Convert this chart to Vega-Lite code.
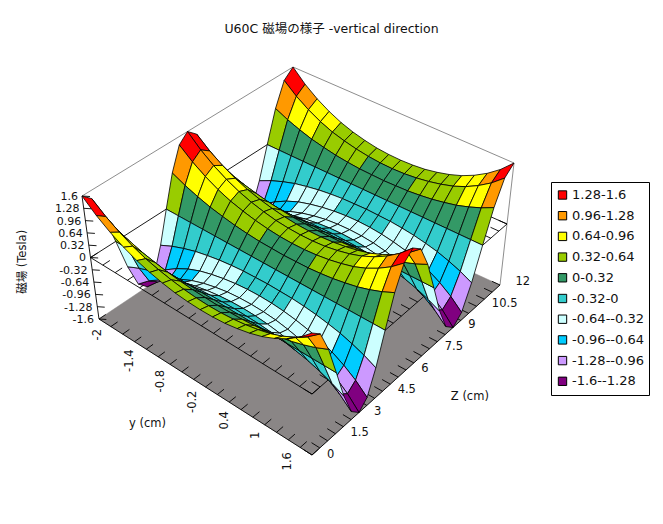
{"$schema":"https://vega.github.io/schema/vega-lite/v6.json","width":663,"height":524,"padding":0,"autosize":"none","background":"white",
"title":{"text":"U60C 磁場の様子 -vertical direction","anchor":"middle","font":"DejaVu Sans, Noto Sans CJK JP","fontSize":12.5,"fontWeight":"normal","color":"#111","baseline":"middle","offset":0,"dy":41},
"config":{"view":{"stroke":null}},
"data":{"values":[
{"set":"floor","o":0,"y":-2,"z":0,"b":-1.6},{"set":"floor","o":1,"y":1.6,"z":0,"b":-1.6},{"set":"floor","o":2,"y":1.6,"z":12,"b":-1.6},{"set":"floor","o":3,"y":-2,"z":12,"b":-1.6},{"set":"floor","o":4,"y":-2,"z":0,"b":-1.6},
{"set":"frame","seg":"a","kind":"wall","y":-2,"z":0,"b":1.6},{"set":"frame","seg":"a","kind":"wall","y":-2,"z":12,"b":1.6},
{"set":"frame","seg":"b","kind":"wall","y":-2,"z":12,"b":1.6},{"set":"frame","seg":"b","kind":"wall","y":1.6,"z":12,"b":1.6},
{"set":"frame","seg":"c","kind":"wall","y":1.6,"z":12,"b":1.6},{"set":"frame","seg":"c","kind":"wall","y":1.6,"z":12,"b":-1.6},
{"set":"frame","seg":"d","kind":"axis","y":-2,"z":0,"b":1.6},{"set":"frame","seg":"d","kind":"axis","y":-2,"z":0,"b":-1.6},
{"set":"frame","seg":"e","kind":"axis","y":-2,"z":0,"b":-1.6},{"set":"frame","seg":"e","kind":"axis","y":1.6,"z":0,"b":-1.6},
{"set":"frame","seg":"f","kind":"axis","y":1.6,"z":0,"b":-1.6},{"set":"frame","seg":"f","kind":"axis","y":1.6,"z":12,"b":-1.6},
{"set":"frame","seg":"g","kind":"axis","y":-2,"z":0,"b":0},{"set":"frame","seg":"g","kind":"axis","y":1.6,"z":0,"b":0},
{"set":"frame","seg":"h","kind":"axis","y":1.6,"z":0,"b":0},{"set":"frame","seg":"h","kind":"axis","y":1.6,"z":12,"b":0},
{"set":"frame","seg":"i","kind":"axis","y":-2,"z":0,"b":0},{"set":"frame","seg":"i","kind":"axis","y":-2,"z":12,"b":0},
{"set":"frame","seg":"j","kind":"axis","y":-2,"z":12,"b":0},{"set":"frame","seg":"j","kind":"axis","y":1.6,"z":12,"b":0},
{"set":"tick","tk":"b","y":-2,"z":0,"b":1.6},{"set":"tick","tk":"b","y":-2,"z":0,"b":1.28},{"set":"tick","tk":"b","y":-2,"z":0,"b":0.96},{"set":"tick","tk":"b","y":-2,"z":0,"b":0.64},{"set":"tick","tk":"b","y":-2,"z":0,"b":0.32},{"set":"tick","tk":"b","y":-2,"z":0,"b":0},{"set":"tick","tk":"b","y":-2,"z":0,"b":-0.32},{"set":"tick","tk":"b","y":-2,"z":0,"b":-0.64},{"set":"tick","tk":"b","y":-2,"z":0,"b":-0.96},{"set":"tick","tk":"b","y":-2,"z":0,"b":-1.28},{"set":"tick","tk":"b","y":-2,"z":0,"b":-1.6},
{"set":"tick","tk":"y","y":-2,"z":0,"b":-1.6},{"set":"tick","tk":"y","y":-1.8,"z":0,"b":-1.6},{"set":"tick","tk":"y","y":-1.6,"z":0,"b":-1.6},{"set":"tick","tk":"y","y":-1.4,"z":0,"b":-1.6},{"set":"tick","tk":"y","y":-1.2,"z":0,"b":-1.6},{"set":"tick","tk":"y","y":-1,"z":0,"b":-1.6},{"set":"tick","tk":"y","y":-0.8,"z":0,"b":-1.6},{"set":"tick","tk":"y","y":-0.6,"z":0,"b":-1.6},{"set":"tick","tk":"y","y":-0.4,"z":0,"b":-1.6},{"set":"tick","tk":"y","y":-0.2,"z":0,"b":-1.6},{"set":"tick","tk":"y","y":0,"z":0,"b":-1.6},{"set":"tick","tk":"y","y":0.2,"z":0,"b":-1.6},{"set":"tick","tk":"y","y":0.4,"z":0,"b":-1.6},{"set":"tick","tk":"y","y":0.6,"z":0,"b":-1.6},{"set":"tick","tk":"y","y":0.8,"z":0,"b":-1.6},{"set":"tick","tk":"y","y":1,"z":0,"b":-1.6},{"set":"tick","tk":"y","y":1.2,"z":0,"b":-1.6},{"set":"tick","tk":"y","y":1.4,"z":0,"b":-1.6},{"set":"tick","tk":"y","y":1.6,"z":0,"b":-1.6},
{"set":"tick","tk":"y","y":-2,"z":0,"b":0},{"set":"tick","tk":"y","y":-1.8,"z":0,"b":0},{"set":"tick","tk":"y","y":-1.6,"z":0,"b":0},{"set":"tick","tk":"y","y":-1.4,"z":0,"b":0},{"set":"tick","tk":"y","y":-1.2,"z":0,"b":0},{"set":"tick","tk":"y","y":-1,"z":0,"b":0},{"set":"tick","tk":"y","y":-0.8,"z":0,"b":0},{"set":"tick","tk":"y","y":-0.6,"z":0,"b":0},{"set":"tick","tk":"y","y":-0.4,"z":0,"b":0},{"set":"tick","tk":"y","y":-0.2,"z":0,"b":0},{"set":"tick","tk":"y","y":0,"z":0,"b":0},{"set":"tick","tk":"y","y":0.2,"z":0,"b":0},{"set":"tick","tk":"y","y":0.4,"z":0,"b":0},{"set":"tick","tk":"y","y":0.6,"z":0,"b":0},{"set":"tick","tk":"y","y":0.8,"z":0,"b":0},{"set":"tick","tk":"y","y":1,"z":0,"b":0},{"set":"tick","tk":"y","y":1.2,"z":0,"b":0},{"set":"tick","tk":"y","y":1.4,"z":0,"b":0},{"set":"tick","tk":"y","y":1.6,"z":0,"b":0},
{"set":"tick","tk":"z","y":1.6,"z":0,"b":-1.6},{"set":"tick","tk":"z","y":1.6,"z":0.5,"b":-1.6},{"set":"tick","tk":"z","y":1.6,"z":1,"b":-1.6},{"set":"tick","tk":"z","y":1.6,"z":1.5,"b":-1.6},{"set":"tick","tk":"z","y":1.6,"z":2,"b":-1.6},{"set":"tick","tk":"z","y":1.6,"z":2.5,"b":-1.6},{"set":"tick","tk":"z","y":1.6,"z":3,"b":-1.6},{"set":"tick","tk":"z","y":1.6,"z":3.5,"b":-1.6},{"set":"tick","tk":"z","y":1.6,"z":4,"b":-1.6},{"set":"tick","tk":"z","y":1.6,"z":4.5,"b":-1.6},{"set":"tick","tk":"z","y":1.6,"z":5,"b":-1.6},{"set":"tick","tk":"z","y":1.6,"z":5.5,"b":-1.6},{"set":"tick","tk":"z","y":1.6,"z":6,"b":-1.6},{"set":"tick","tk":"z","y":1.6,"z":6.5,"b":-1.6},{"set":"tick","tk":"z","y":1.6,"z":7,"b":-1.6},{"set":"tick","tk":"z","y":1.6,"z":7.5,"b":-1.6},{"set":"tick","tk":"z","y":1.6,"z":8,"b":-1.6},{"set":"tick","tk":"z","y":1.6,"z":8.5,"b":-1.6},{"set":"tick","tk":"z","y":1.6,"z":9,"b":-1.6},{"set":"tick","tk":"z","y":1.6,"z":9.5,"b":-1.6},{"set":"tick","tk":"z","y":1.6,"z":10,"b":-1.6},{"set":"tick","tk":"z","y":1.6,"z":10.5,"b":-1.6},{"set":"tick","tk":"z","y":1.6,"z":11,"b":-1.6},{"set":"tick","tk":"z","y":1.6,"z":11.5,"b":-1.6},{"set":"tick","tk":"z","y":1.6,"z":12,"b":-1.6},
{"set":"tick","tk":"z","y":1.6,"z":0,"b":0},{"set":"tick","tk":"z","y":1.6,"z":0.5,"b":0},{"set":"tick","tk":"z","y":1.6,"z":1,"b":0},{"set":"tick","tk":"z","y":1.6,"z":1.5,"b":0},{"set":"tick","tk":"z","y":1.6,"z":2,"b":0},{"set":"tick","tk":"z","y":1.6,"z":2.5,"b":0},{"set":"tick","tk":"z","y":1.6,"z":3,"b":0},{"set":"tick","tk":"z","y":1.6,"z":3.5,"b":0},{"set":"tick","tk":"z","y":1.6,"z":4,"b":0},{"set":"tick","tk":"z","y":1.6,"z":4.5,"b":0},{"set":"tick","tk":"z","y":1.6,"z":5,"b":0},{"set":"tick","tk":"z","y":1.6,"z":5.5,"b":0},{"set":"tick","tk":"z","y":1.6,"z":6,"b":0},{"set":"tick","tk":"z","y":1.6,"z":6.5,"b":0},{"set":"tick","tk":"z","y":1.6,"z":7,"b":0},{"set":"tick","tk":"z","y":1.6,"z":7.5,"b":0},{"set":"tick","tk":"z","y":1.6,"z":8,"b":0},{"set":"tick","tk":"z","y":1.6,"z":8.5,"b":0},{"set":"tick","tk":"z","y":1.6,"z":9,"b":0},{"set":"tick","tk":"z","y":1.6,"z":9.5,"b":0},{"set":"tick","tk":"z","y":1.6,"z":10,"b":0},{"set":"tick","tk":"z","y":1.6,"z":10.5,"b":0},{"set":"tick","tk":"z","y":1.6,"z":11,"b":0},{"set":"tick","tk":"z","y":1.6,"z":11.5,"b":0},{"set":"tick","tk":"z","y":1.6,"z":12,"b":0},
{"set":"yl","val":-2,"label":"-2"},{"set":"yl","val":-1.4,"label":"-1.4"},{"set":"yl","val":-0.8,"label":"-0.8"},{"set":"yl","val":-0.2,"label":"-0.2"},{"set":"yl","val":0.4,"label":"0.4"},{"set":"yl","val":1,"label":"1"},{"set":"yl","val":1.6,"label":"1.6"},
{"set":"zl","val":0,"label":"0"},{"set":"zl","val":1.5,"label":"1.5"},{"set":"zl","val":3,"label":"3"},{"set":"zl","val":4.5,"label":"4.5"},{"set":"zl","val":6,"label":"6"},{"set":"zl","val":7.5,"label":"7.5"},{"set":"zl","val":9,"label":"9"},{"set":"zl","val":10.5,"label":"10.5"},{"set":"zl","val":12,"label":"12"},
{"set":"bl","val":1.6,"label":"1.6"},{"set":"bl","val":1.28,"label":"1.28"},{"set":"bl","val":0.96,"label":"0.96"},{"set":"bl","val":0.64,"label":"0.64"},{"set":"bl","val":0.32,"label":"0.32"},{"set":"bl","val":0,"label":"0"},{"set":"bl","val":-0.32,"label":"-0.32"},{"set":"bl","val":-0.64,"label":"-0.64"},{"set":"bl","val":-0.96,"label":"-0.96"},{"set":"bl","val":-1.28,"label":"-1.28"},{"set":"bl","val":-1.6,"label":"-1.6"},
{"set":"at","y":-0.2,"z":-3.6,"b":-1.4,"label":"y (cm)"},{"set":"at","y":2.68,"z":6,"b":-1.4,"label":"Z (cm)"},{"set":"av","y":-2.46,"z":-2.3,"b":0.05,"label":"磁場 (Tesla)"},
{"y":-2,"z":12,"b":1.6},{"y":-1.8,"z":12,"b":1.29},{"y":-1.6,"z":12,"b":1.05},{"y":-1.4,"z":12,"b":0.86},{"y":-1.2,"z":12,"b":0.71},{"y":-1,"z":12,"b":0.6},{"y":-0.8,"z":12,"b":0.52},{"y":-0.6,"z":12,"b":0.46},{"y":-0.4,"z":12,"b":0.43},{"y":-0.2,"z":12,"b":0.42},{"y":0,"z":12,"b":0.43},{"y":0.2,"z":12,"b":0.46},{"y":0.4,"z":12,"b":0.52},{"y":0.6,"z":12,"b":0.6},{"y":0.8,"z":12,"b":0.71},{"y":1,"z":12,"b":0.86},{"y":1.2,"z":12,"b":1.05},{"y":1.4,"z":12,"b":1.29},{"y":1.6,"z":12,"b":1.6},
{"y":-2,"z":11.5,"b":1.39},{"y":-1.8,"z":11.5,"b":1.12},{"y":-1.6,"z":11.5,"b":0.91},{"y":-1.4,"z":11.5,"b":0.74},{"y":-1.2,"z":11.5,"b":0.61},{"y":-1,"z":11.5,"b":0.52},{"y":-0.8,"z":11.5,"b":0.45},{"y":-0.6,"z":11.5,"b":0.4},{"y":-0.4,"z":11.5,"b":0.37},{"y":-0.2,"z":11.5,"b":0.36},{"y":0,"z":11.5,"b":0.37},{"y":0.2,"z":11.5,"b":0.4},{"y":0.4,"z":11.5,"b":0.45},{"y":0.6,"z":11.5,"b":0.52},{"y":0.8,"z":11.5,"b":0.61},{"y":1,"z":11.5,"b":0.74},{"y":1.2,"z":11.5,"b":0.91},{"y":1.4,"z":11.5,"b":1.12},{"y":1.6,"z":11.5,"b":1.39},
{"y":-2,"z":11,"b":0.8},{"y":-1.8,"z":11,"b":0.65},{"y":-1.6,"z":11,"b":0.53},{"y":-1.4,"z":11,"b":0.43},{"y":-1.2,"z":11,"b":0.36},{"y":-1,"z":11,"b":0.3},{"y":-0.8,"z":11,"b":0.26},{"y":-0.6,"z":11,"b":0.23},{"y":-0.4,"z":11,"b":0.22},{"y":-0.2,"z":11,"b":0.21},{"y":0,"z":11,"b":0.22},{"y":0.2,"z":11,"b":0.23},{"y":0.4,"z":11,"b":0.26},{"y":0.6,"z":11,"b":0.3},{"y":0.8,"z":11,"b":0.36},{"y":1,"z":11,"b":0.43},{"y":1.2,"z":11,"b":0.53},{"y":1.4,"z":11,"b":0.65},{"y":1.6,"z":11,"b":0.8},
{"y":-2,"z":10.5,"b":0},{"y":-1.8,"z":10.5,"b":0},{"y":-1.6,"z":10.5,"b":0},{"y":-1.4,"z":10.5,"b":0},{"y":-1.2,"z":10.5,"b":0},{"y":-1,"z":10.5,"b":0},{"y":-0.8,"z":10.5,"b":0},{"y":-0.6,"z":10.5,"b":0},{"y":-0.4,"z":10.5,"b":0},{"y":-0.2,"z":10.5,"b":0},{"y":0,"z":10.5,"b":0},{"y":0.2,"z":10.5,"b":0},{"y":0.4,"z":10.5,"b":0},{"y":0.6,"z":10.5,"b":0},{"y":0.8,"z":10.5,"b":0},{"y":1,"z":10.5,"b":0},{"y":1.2,"z":10.5,"b":0},{"y":1.4,"z":10.5,"b":0},{"y":1.6,"z":10.5,"b":0},
{"y":-2,"z":10,"b":-0.8},{"y":-1.8,"z":10,"b":-0.65},{"y":-1.6,"z":10,"b":-0.53},{"y":-1.4,"z":10,"b":-0.43},{"y":-1.2,"z":10,"b":-0.36},{"y":-1,"z":10,"b":-0.3},{"y":-0.8,"z":10,"b":-0.26},{"y":-0.6,"z":10,"b":-0.23},{"y":-0.4,"z":10,"b":-0.22},{"y":-0.2,"z":10,"b":-0.21},{"y":0,"z":10,"b":-0.22},{"y":0.2,"z":10,"b":-0.23},{"y":0.4,"z":10,"b":-0.26},{"y":0.6,"z":10,"b":-0.3},{"y":0.8,"z":10,"b":-0.36},{"y":1,"z":10,"b":-0.43},{"y":1.2,"z":10,"b":-0.53},{"y":1.4,"z":10,"b":-0.65},{"y":1.6,"z":10,"b":-0.8},
{"y":-2,"z":9.5,"b":-1.39},{"y":-1.8,"z":9.5,"b":-1.12},{"y":-1.6,"z":9.5,"b":-0.91},{"y":-1.4,"z":9.5,"b":-0.74},{"y":-1.2,"z":9.5,"b":-0.61},{"y":-1,"z":9.5,"b":-0.52},{"y":-0.8,"z":9.5,"b":-0.45},{"y":-0.6,"z":9.5,"b":-0.4},{"y":-0.4,"z":9.5,"b":-0.37},{"y":-0.2,"z":9.5,"b":-0.36},{"y":0,"z":9.5,"b":-0.37},{"y":0.2,"z":9.5,"b":-0.4},{"y":0.4,"z":9.5,"b":-0.45},{"y":0.6,"z":9.5,"b":-0.52},{"y":0.8,"z":9.5,"b":-0.61},{"y":1,"z":9.5,"b":-0.74},{"y":1.2,"z":9.5,"b":-0.91},{"y":1.4,"z":9.5,"b":-1.12},{"y":1.6,"z":9.5,"b":-1.39},
{"y":-2,"z":9,"b":-1.6},{"y":-1.8,"z":9,"b":-1.29},{"y":-1.6,"z":9,"b":-1.05},{"y":-1.4,"z":9,"b":-0.86},{"y":-1.2,"z":9,"b":-0.71},{"y":-1,"z":9,"b":-0.6},{"y":-0.8,"z":9,"b":-0.52},{"y":-0.6,"z":9,"b":-0.46},{"y":-0.4,"z":9,"b":-0.43},{"y":-0.2,"z":9,"b":-0.42},{"y":0,"z":9,"b":-0.43},{"y":0.2,"z":9,"b":-0.46},{"y":0.4,"z":9,"b":-0.52},{"y":0.6,"z":9,"b":-0.6},{"y":0.8,"z":9,"b":-0.71},{"y":1,"z":9,"b":-0.86},{"y":1.2,"z":9,"b":-1.05},{"y":1.4,"z":9,"b":-1.29},{"y":1.6,"z":9,"b":-1.6},
{"y":-2,"z":8.5,"b":-1.39},{"y":-1.8,"z":8.5,"b":-1.12},{"y":-1.6,"z":8.5,"b":-0.91},{"y":-1.4,"z":8.5,"b":-0.74},{"y":-1.2,"z":8.5,"b":-0.61},{"y":-1,"z":8.5,"b":-0.52},{"y":-0.8,"z":8.5,"b":-0.45},{"y":-0.6,"z":8.5,"b":-0.4},{"y":-0.4,"z":8.5,"b":-0.37},{"y":-0.2,"z":8.5,"b":-0.36},{"y":0,"z":8.5,"b":-0.37},{"y":0.2,"z":8.5,"b":-0.4},{"y":0.4,"z":8.5,"b":-0.45},{"y":0.6,"z":8.5,"b":-0.52},{"y":0.8,"z":8.5,"b":-0.61},{"y":1,"z":8.5,"b":-0.74},{"y":1.2,"z":8.5,"b":-0.91},{"y":1.4,"z":8.5,"b":-1.12},{"y":1.6,"z":8.5,"b":-1.39},
{"y":-2,"z":8,"b":-0.8},{"y":-1.8,"z":8,"b":-0.65},{"y":-1.6,"z":8,"b":-0.53},{"y":-1.4,"z":8,"b":-0.43},{"y":-1.2,"z":8,"b":-0.36},{"y":-1,"z":8,"b":-0.3},{"y":-0.8,"z":8,"b":-0.26},{"y":-0.6,"z":8,"b":-0.23},{"y":-0.4,"z":8,"b":-0.22},{"y":-0.2,"z":8,"b":-0.21},{"y":0,"z":8,"b":-0.22},{"y":0.2,"z":8,"b":-0.23},{"y":0.4,"z":8,"b":-0.26},{"y":0.6,"z":8,"b":-0.3},{"y":0.8,"z":8,"b":-0.36},{"y":1,"z":8,"b":-0.43},{"y":1.2,"z":8,"b":-0.53},{"y":1.4,"z":8,"b":-0.65},{"y":1.6,"z":8,"b":-0.8},
{"y":-2,"z":7.5,"b":0},{"y":-1.8,"z":7.5,"b":0},{"y":-1.6,"z":7.5,"b":0},{"y":-1.4,"z":7.5,"b":0},{"y":-1.2,"z":7.5,"b":0},{"y":-1,"z":7.5,"b":0},{"y":-0.8,"z":7.5,"b":0},{"y":-0.6,"z":7.5,"b":0},{"y":-0.4,"z":7.5,"b":0},{"y":-0.2,"z":7.5,"b":0},{"y":0,"z":7.5,"b":0},{"y":0.2,"z":7.5,"b":0},{"y":0.4,"z":7.5,"b":0},{"y":0.6,"z":7.5,"b":0},{"y":0.8,"z":7.5,"b":0},{"y":1,"z":7.5,"b":0},{"y":1.2,"z":7.5,"b":0},{"y":1.4,"z":7.5,"b":0},{"y":1.6,"z":7.5,"b":0},
{"y":-2,"z":7,"b":0.8},{"y":-1.8,"z":7,"b":0.65},{"y":-1.6,"z":7,"b":0.53},{"y":-1.4,"z":7,"b":0.43},{"y":-1.2,"z":7,"b":0.36},{"y":-1,"z":7,"b":0.3},{"y":-0.8,"z":7,"b":0.26},{"y":-0.6,"z":7,"b":0.23},{"y":-0.4,"z":7,"b":0.22},{"y":-0.2,"z":7,"b":0.21},{"y":0,"z":7,"b":0.22},{"y":0.2,"z":7,"b":0.23},{"y":0.4,"z":7,"b":0.26},{"y":0.6,"z":7,"b":0.3},{"y":0.8,"z":7,"b":0.36},{"y":1,"z":7,"b":0.43},{"y":1.2,"z":7,"b":0.53},{"y":1.4,"z":7,"b":0.65},{"y":1.6,"z":7,"b":0.8},
{"y":-2,"z":6.5,"b":1.39},{"y":-1.8,"z":6.5,"b":1.12},{"y":-1.6,"z":6.5,"b":0.91},{"y":-1.4,"z":6.5,"b":0.74},{"y":-1.2,"z":6.5,"b":0.61},{"y":-1,"z":6.5,"b":0.52},{"y":-0.8,"z":6.5,"b":0.45},{"y":-0.6,"z":6.5,"b":0.4},{"y":-0.4,"z":6.5,"b":0.37},{"y":-0.2,"z":6.5,"b":0.36},{"y":0,"z":6.5,"b":0.37},{"y":0.2,"z":6.5,"b":0.4},{"y":0.4,"z":6.5,"b":0.45},{"y":0.6,"z":6.5,"b":0.52},{"y":0.8,"z":6.5,"b":0.61},{"y":1,"z":6.5,"b":0.74},{"y":1.2,"z":6.5,"b":0.91},{"y":1.4,"z":6.5,"b":1.12},{"y":1.6,"z":6.5,"b":1.39},
{"y":-2,"z":6,"b":1.6},{"y":-1.8,"z":6,"b":1.29},{"y":-1.6,"z":6,"b":1.05},{"y":-1.4,"z":6,"b":0.86},{"y":-1.2,"z":6,"b":0.71},{"y":-1,"z":6,"b":0.6},{"y":-0.8,"z":6,"b":0.52},{"y":-0.6,"z":6,"b":0.46},{"y":-0.4,"z":6,"b":0.43},{"y":-0.2,"z":6,"b":0.42},{"y":0,"z":6,"b":0.43},{"y":0.2,"z":6,"b":0.46},{"y":0.4,"z":6,"b":0.52},{"y":0.6,"z":6,"b":0.6},{"y":0.8,"z":6,"b":0.71},{"y":1,"z":6,"b":0.86},{"y":1.2,"z":6,"b":1.05},{"y":1.4,"z":6,"b":1.29},{"y":1.6,"z":6,"b":1.6},
{"y":-2,"z":5.5,"b":1.39},{"y":-1.8,"z":5.5,"b":1.12},{"y":-1.6,"z":5.5,"b":0.91},{"y":-1.4,"z":5.5,"b":0.74},{"y":-1.2,"z":5.5,"b":0.61},{"y":-1,"z":5.5,"b":0.52},{"y":-0.8,"z":5.5,"b":0.45},{"y":-0.6,"z":5.5,"b":0.4},{"y":-0.4,"z":5.5,"b":0.37},{"y":-0.2,"z":5.5,"b":0.36},{"y":0,"z":5.5,"b":0.37},{"y":0.2,"z":5.5,"b":0.4},{"y":0.4,"z":5.5,"b":0.45},{"y":0.6,"z":5.5,"b":0.52},{"y":0.8,"z":5.5,"b":0.61},{"y":1,"z":5.5,"b":0.74},{"y":1.2,"z":5.5,"b":0.91},{"y":1.4,"z":5.5,"b":1.12},{"y":1.6,"z":5.5,"b":1.39},
{"y":-2,"z":5,"b":0.8},{"y":-1.8,"z":5,"b":0.65},{"y":-1.6,"z":5,"b":0.53},{"y":-1.4,"z":5,"b":0.43},{"y":-1.2,"z":5,"b":0.36},{"y":-1,"z":5,"b":0.3},{"y":-0.8,"z":5,"b":0.26},{"y":-0.6,"z":5,"b":0.23},{"y":-0.4,"z":5,"b":0.22},{"y":-0.2,"z":5,"b":0.21},{"y":0,"z":5,"b":0.22},{"y":0.2,"z":5,"b":0.23},{"y":0.4,"z":5,"b":0.26},{"y":0.6,"z":5,"b":0.3},{"y":0.8,"z":5,"b":0.36},{"y":1,"z":5,"b":0.43},{"y":1.2,"z":5,"b":0.53},{"y":1.4,"z":5,"b":0.65},{"y":1.6,"z":5,"b":0.8},
{"y":-2,"z":4.5,"b":0},{"y":-1.8,"z":4.5,"b":0},{"y":-1.6,"z":4.5,"b":0},{"y":-1.4,"z":4.5,"b":0},{"y":-1.2,"z":4.5,"b":0},{"y":-1,"z":4.5,"b":0},{"y":-0.8,"z":4.5,"b":0},{"y":-0.6,"z":4.5,"b":0},{"y":-0.4,"z":4.5,"b":0},{"y":-0.2,"z":4.5,"b":0},{"y":0,"z":4.5,"b":0},{"y":0.2,"z":4.5,"b":0},{"y":0.4,"z":4.5,"b":0},{"y":0.6,"z":4.5,"b":0},{"y":0.8,"z":4.5,"b":0},{"y":1,"z":4.5,"b":0},{"y":1.2,"z":4.5,"b":0},{"y":1.4,"z":4.5,"b":0},{"y":1.6,"z":4.5,"b":0},
{"y":-2,"z":4,"b":-0.8},{"y":-1.8,"z":4,"b":-0.65},{"y":-1.6,"z":4,"b":-0.53},{"y":-1.4,"z":4,"b":-0.43},{"y":-1.2,"z":4,"b":-0.36},{"y":-1,"z":4,"b":-0.3},{"y":-0.8,"z":4,"b":-0.26},{"y":-0.6,"z":4,"b":-0.23},{"y":-0.4,"z":4,"b":-0.22},{"y":-0.2,"z":4,"b":-0.21},{"y":0,"z":4,"b":-0.22},{"y":0.2,"z":4,"b":-0.23},{"y":0.4,"z":4,"b":-0.26},{"y":0.6,"z":4,"b":-0.3},{"y":0.8,"z":4,"b":-0.36},{"y":1,"z":4,"b":-0.43},{"y":1.2,"z":4,"b":-0.53},{"y":1.4,"z":4,"b":-0.65},{"y":1.6,"z":4,"b":-0.8},
{"y":-2,"z":3.5,"b":-1.39},{"y":-1.8,"z":3.5,"b":-1.12},{"y":-1.6,"z":3.5,"b":-0.91},{"y":-1.4,"z":3.5,"b":-0.74},{"y":-1.2,"z":3.5,"b":-0.61},{"y":-1,"z":3.5,"b":-0.52},{"y":-0.8,"z":3.5,"b":-0.45},{"y":-0.6,"z":3.5,"b":-0.4},{"y":-0.4,"z":3.5,"b":-0.37},{"y":-0.2,"z":3.5,"b":-0.36},{"y":0,"z":3.5,"b":-0.37},{"y":0.2,"z":3.5,"b":-0.4},{"y":0.4,"z":3.5,"b":-0.45},{"y":0.6,"z":3.5,"b":-0.52},{"y":0.8,"z":3.5,"b":-0.61},{"y":1,"z":3.5,"b":-0.74},{"y":1.2,"z":3.5,"b":-0.91},{"y":1.4,"z":3.5,"b":-1.12},{"y":1.6,"z":3.5,"b":-1.39},
{"y":-2,"z":3,"b":-1.6},{"y":-1.8,"z":3,"b":-1.29},{"y":-1.6,"z":3,"b":-1.05},{"y":-1.4,"z":3,"b":-0.86},{"y":-1.2,"z":3,"b":-0.71},{"y":-1,"z":3,"b":-0.6},{"y":-0.8,"z":3,"b":-0.52},{"y":-0.6,"z":3,"b":-0.46},{"y":-0.4,"z":3,"b":-0.43},{"y":-0.2,"z":3,"b":-0.42},{"y":0,"z":3,"b":-0.43},{"y":0.2,"z":3,"b":-0.46},{"y":0.4,"z":3,"b":-0.52},{"y":0.6,"z":3,"b":-0.6},{"y":0.8,"z":3,"b":-0.71},{"y":1,"z":3,"b":-0.86},{"y":1.2,"z":3,"b":-1.05},{"y":1.4,"z":3,"b":-1.29},{"y":1.6,"z":3,"b":-1.6},
{"y":-2,"z":2.5,"b":-1.39},{"y":-1.8,"z":2.5,"b":-1.12},{"y":-1.6,"z":2.5,"b":-0.91},{"y":-1.4,"z":2.5,"b":-0.74},{"y":-1.2,"z":2.5,"b":-0.61},{"y":-1,"z":2.5,"b":-0.52},{"y":-0.8,"z":2.5,"b":-0.45},{"y":-0.6,"z":2.5,"b":-0.4},{"y":-0.4,"z":2.5,"b":-0.37},{"y":-0.2,"z":2.5,"b":-0.36},{"y":0,"z":2.5,"b":-0.37},{"y":0.2,"z":2.5,"b":-0.4},{"y":0.4,"z":2.5,"b":-0.45},{"y":0.6,"z":2.5,"b":-0.52},{"y":0.8,"z":2.5,"b":-0.61},{"y":1,"z":2.5,"b":-0.74},{"y":1.2,"z":2.5,"b":-0.91},{"y":1.4,"z":2.5,"b":-1.12},{"y":1.6,"z":2.5,"b":-1.39},
{"y":-2,"z":2,"b":-0.8},{"y":-1.8,"z":2,"b":-0.65},{"y":-1.6,"z":2,"b":-0.53},{"y":-1.4,"z":2,"b":-0.43},{"y":-1.2,"z":2,"b":-0.36},{"y":-1,"z":2,"b":-0.3},{"y":-0.8,"z":2,"b":-0.26},{"y":-0.6,"z":2,"b":-0.23},{"y":-0.4,"z":2,"b":-0.22},{"y":-0.2,"z":2,"b":-0.21},{"y":0,"z":2,"b":-0.22},{"y":0.2,"z":2,"b":-0.23},{"y":0.4,"z":2,"b":-0.26},{"y":0.6,"z":2,"b":-0.3},{"y":0.8,"z":2,"b":-0.36},{"y":1,"z":2,"b":-0.43},{"y":1.2,"z":2,"b":-0.53},{"y":1.4,"z":2,"b":-0.65},{"y":1.6,"z":2,"b":-0.8},
{"y":-2,"z":1.5,"b":0},{"y":-1.8,"z":1.5,"b":0},{"y":-1.6,"z":1.5,"b":0},{"y":-1.4,"z":1.5,"b":0},{"y":-1.2,"z":1.5,"b":0},{"y":-1,"z":1.5,"b":0},{"y":-0.8,"z":1.5,"b":0},{"y":-0.6,"z":1.5,"b":0},{"y":-0.4,"z":1.5,"b":0},{"y":-0.2,"z":1.5,"b":0},{"y":0,"z":1.5,"b":0},{"y":0.2,"z":1.5,"b":0},{"y":0.4,"z":1.5,"b":0},{"y":0.6,"z":1.5,"b":0},{"y":0.8,"z":1.5,"b":0},{"y":1,"z":1.5,"b":0},{"y":1.2,"z":1.5,"b":0},{"y":1.4,"z":1.5,"b":0},{"y":1.6,"z":1.5,"b":0},
{"y":-2,"z":1,"b":0.8},{"y":-1.8,"z":1,"b":0.65},{"y":-1.6,"z":1,"b":0.53},{"y":-1.4,"z":1,"b":0.43},{"y":-1.2,"z":1,"b":0.36},{"y":-1,"z":1,"b":0.3},{"y":-0.8,"z":1,"b":0.26},{"y":-0.6,"z":1,"b":0.23},{"y":-0.4,"z":1,"b":0.22},{"y":-0.2,"z":1,"b":0.21},{"y":0,"z":1,"b":0.22},{"y":0.2,"z":1,"b":0.23},{"y":0.4,"z":1,"b":0.26},{"y":0.6,"z":1,"b":0.3},{"y":0.8,"z":1,"b":0.36},{"y":1,"z":1,"b":0.43},{"y":1.2,"z":1,"b":0.53},{"y":1.4,"z":1,"b":0.65},{"y":1.6,"z":1,"b":0.8},
{"y":-2,"z":0.5,"b":1.39},{"y":-1.8,"z":0.5,"b":1.12},{"y":-1.6,"z":0.5,"b":0.91},{"y":-1.4,"z":0.5,"b":0.74},{"y":-1.2,"z":0.5,"b":0.61},{"y":-1,"z":0.5,"b":0.52},{"y":-0.8,"z":0.5,"b":0.45},{"y":-0.6,"z":0.5,"b":0.4},{"y":-0.4,"z":0.5,"b":0.37},{"y":-0.2,"z":0.5,"b":0.36},{"y":0,"z":0.5,"b":0.37},{"y":0.2,"z":0.5,"b":0.4},{"y":0.4,"z":0.5,"b":0.45},{"y":0.6,"z":0.5,"b":0.52},{"y":0.8,"z":0.5,"b":0.61},{"y":1,"z":0.5,"b":0.74},{"y":1.2,"z":0.5,"b":0.91},{"y":1.4,"z":0.5,"b":1.12},{"y":1.6,"z":0.5,"b":1.39},
{"y":-2,"z":0,"b":1.6},{"y":-1.8,"z":0,"b":1.29},{"y":-1.6,"z":0,"b":1.05},{"y":-1.4,"z":0,"b":0.86},{"y":-1.2,"z":0,"b":0.71},{"y":-1,"z":0,"b":0.6},{"y":-0.8,"z":0,"b":0.52},{"y":-0.6,"z":0,"b":0.46},{"y":-0.4,"z":0,"b":0.43},{"y":-0.2,"z":0,"b":0.42},{"y":0,"z":0,"b":0.43},{"y":0.2,"z":0,"b":0.46},{"y":0.4,"z":0,"b":0.52},{"y":0.6,"z":0,"b":0.6},{"y":0.8,"z":0,"b":0.71},{"y":1,"z":0,"b":0.86},{"y":1.2,"z":0,"b":1.05},{"y":1.4,"z":0,"b":1.29},{"y":1.6,"z":0,"b":1.6}
]},
"transform":[
{"calculate":"datum.set=='tick'?[0,1]:[0]","as":"w"},
{"flatten":["w"]},
{"calculate":"(datum.y+datum.w*(datum.tk=='z'?-0.14:datum.tk=='b'?0.07:0)+2)/3.6","as":"s"},
{"calculate":"(datum.z+datum.w*(datum.tk=='y'?0.42:datum.tk=='b'?0.2:0))/12","as":"q"},
{"calculate":"(datum.b+1.6)/3.2","as":"h"},
{"calculate":"(1-datum.s)*(1-datum.q)*(99-17*datum.h)+datum.s*(1-datum.q)*312+datum.s*datum.q*(500+14*datum.h)+(1-datum.s)*datum.q*(292+datum.h)","as":"px"},
{"calculate":"(1-datum.s)*(1-datum.q)*(319-123*datum.h)+datum.s*(1-datum.q)*(455-122*datum.h)+datum.s*datum.q*(285-122*datum.h)+(1-datum.s)*datum.q*(190-123*datum.h)","as":"py"}
],
"encoding":{
"x":{"field":"px","type":"quantitative","scale":{"domain":[0,663],"nice":false,"zero":false},"axis":null},
"y":{"field":"py","type":"quantitative","scale":{"domain":[524,0],"nice":false,"zero":false},"axis":null}},
"layer":[
{"transform":[{"filter":"datum.set=='floor'"}],"mark":{"type":"line","fill":"#8a8686","stroke":"#8a8686","strokeWidth":0.5},"encoding":{"order":{"field":"o","type":"quantitative"}}},
{"transform":[{"filter":"datum.set=='frame'"}],"mark":{"type":"line","strokeWidth":0.9},"encoding":{"detail":{"field":"seg"},"stroke":{"field":"kind","type":"nominal","scale":{"domain":["wall","axis"],"range":["#808080","#000000"]},"legend":null}}},
{"transform":[{"filter":"datum.set=='tick'"}],"mark":{"type":"line","stroke":"#000000","strokeWidth":0.9},"encoding":{"detail":[{"field":"tk"},{"field":"y"},{"field":"z"},{"field":"b"}],"order":{"field":"w","type":"quantitative"}}},
{"transform":[
{"filter":"!datum.set"},
{"calculate":"round((datum.y+2)/0.2)","as":"i"},
{"calculate":"round(datum.z/0.5)","as":"j"},
{"calculate":"[datum.i,datum.i-1,datum.i-1,datum.i,datum.i]","as":"ci"},
{"calculate":"[datum.j,datum.j,datum.j-1,datum.j-1,datum.j]","as":"cj"},
{"calculate":"[0,1,2,3,4]","as":"ord"},
{"flatten":["ci","cj","ord"]},
{"filter":"datum.ci>=0&&datum.ci<18&&datum.cj>=0&&datum.cj<24"},
{"calculate":"datum.ci*100+datum.cj","as":"cell"},
{"calculate":"datum.ord<4?datum.b:0","as":"bb"},
{"joinaggregate":[{"op":"sum","field":"bb","as":"sumb"}],"groupby":["cell"]},
{"calculate":"['-1.6--1.28','-1.28--0.96','-0.96--0.64','-0.64--0.32','-0.32-0','0-0.32','0.32-0.64','0.64-0.96','0.96-1.28','1.28-1.6'][clamp(floor((datum.sumb/4+1.6)/0.32),0,9)]","as":"band"}
],
"mark":{"type":"line","stroke":"#000000","strokeWidth":0.8,"strokeJoin":"round"},
"encoding":{"detail":{"field":"cell"},"order":{"field":"ord","type":"quantitative"},
"fill":{"field":"band","type":"nominal","scale":{"domain":["1.28-1.6","0.96-1.28","0.64-0.96","0.32-0.64","0-0.32","-0.32-0","-0.64--0.32","-0.96--0.64","-1.28--0.96","-1.6--1.28"],"range":["#ff0000","#ff9900","#ffff00","#99cc00","#339966","#33cccc","#ccffff","#00ccff","#cc99ff","#800080"]},
"legend":{"orient":"none","legendX":551,"legendY":182,"title":null,"symbolType":"square","symbolSize":70,"symbolStrokeColor":"#000000","symbolStrokeWidth":1,"symbolOpacity":1,"labelFont":"DejaVu Sans","labelFontSize":13,"labelColor":"#111","strokeColor":"#000000","padding":5,"rowPadding":4.7,"labelOffset":3,"clipHeight":16,"values":["1.28-1.6","0.96-1.28","0.64-0.96","0.32-0.64","0-0.32","-0.32-0","-0.64--0.32","-0.96--0.64","-1.28--0.96","-1.6--1.28"]}}}},
{"transform":[{"filter":"datum.set=='yl'"},{"calculate":"98+52.8*(datum.val+2)","as":"px"},{"calculate":"329+34.2*(datum.val+2)","as":"py"}],"mark":{"type":"text","angle":270,"align":"right","baseline":"middle","font":"DejaVu Sans","fontSize":11.5,"color":"#111"},"encoding":{"text":{"field":"label"}}},
{"transform":[{"filter":"datum.set=='zl'"},{"calculate":"327+15.7*datum.val","as":"px"},{"calculate":"455-14.4*datum.val","as":"py"}],"mark":{"type":"text","align":"left","baseline":"middle","font":"DejaVu Sans","fontSize":11.5,"color":"#111"},"encoding":{"text":{"field":"label"}}},
{"transform":[{"filter":"datum.set=='bl'"},{"calculate":"78+(1.6-datum.val)*5","as":"px"},{"calculate":"197+(1.6-datum.val)*38.4","as":"py"}],"mark":{"type":"text","align":"right","baseline":"middle","font":"DejaVu Sans","fontSize":11,"color":"#111"},"encoding":{"text":{"field":"label"}}},
{"transform":[{"filter":"datum.set=='at'"}],"mark":{"type":"text","align":"center","baseline":"middle","font":"DejaVu Sans","fontSize":11.5,"color":"#111"},"encoding":{"text":{"field":"label"}}},
{"transform":[{"filter":"datum.set=='av'"}],"mark":{"type":"text","angle":270,"align":"center","baseline":"middle","font":"DejaVu Sans, Noto Sans CJK JP","fontSize":11.5,"color":"#111"},"encoding":{"text":{"field":"label"}}}
]}
